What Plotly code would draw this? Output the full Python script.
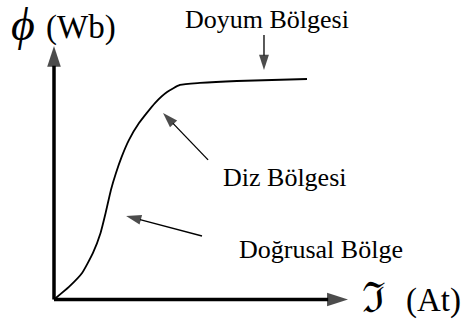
import plotly.graph_objects as go

W, H = 465, 329

# Magnetisation curve: normalised magnetomotive force vs. normalised flux
mmf = [0.0, 0.059, 0.111, 0.154, 0.184, 0.204, 0.225, 0.245, 0.267, 0.296,
       0.336, 0.399, 0.447, 0.498, 0.577, 0.723, 1.0]
flux = [0.0, 0.057, 0.120, 0.211, 0.302, 0.392, 0.497, 0.574, 0.646, 0.723,
        0.800, 0.891, 0.941, 0.973, 0.982, 0.991, 1.0]

# Region labels and their pointer arrows (tail -> tip, data units)
region_labels = ["Doyum Bölgesi", "Diz Bölgesi", "Doğrusal Bölge"]
pointer_tail = [(0.830, 1.200), (0.609, 0.633), (0.585, 0.288)]
pointer_tip = [(0.830, 1.041), (0.431, 0.846), (0.285, 0.379)]

# Axis extents (data units) where the arrowheads sit
x_axis_end = 1.162
y_axis_end = 1.150

SERIF = "Liberation Serif"

fig = go.Figure()

# Axes drawn as thick arrows from the origin
for xs, ys in (([0, x_axis_end], [0, 0]), ([0, 0], [0, y_axis_end])):
    fig.add_trace(go.Scatter(
        x=xs, y=ys, mode="lines+markers",
        line=dict(color="black", width=3.5),
        marker=dict(symbol="arrow", size=[0, 22], angleref="previous",
                    color="black", line=dict(width=0)),
        cliponaxis=False, hoverinfo="skip", showlegend=False))

# The magnetisation curve
fig.add_trace(go.Scatter(
    x=mmf, y=flux, mode="lines",
    line=dict(color="black", width=1.8, shape="spline", smoothing=0.5),
    hoverinfo="skip", showlegend=False))

# Thin pointer arrows for each region
for (tx, ty), (hx, hy) in zip(pointer_tail, pointer_tip):
    fig.add_trace(go.Scatter(
        x=[tx, hx], y=[ty, hy], mode="lines+markers",
        line=dict(color="black", width=1.3),
        marker=dict(symbol="arrow", size=[0, 16], angleref="previous",
                    color="black", line=dict(width=0)),
        cliponaxis=False, hoverinfo="skip", showlegend=False))


def px(x, y):
    """Pixel position -> paper coordinates (figure has no margins)."""
    return x / W, 1 - y / H


def label(text, x, y, size):
    ax, ay = px(x, y)
    return dict(x=ax, y=ay, xref="paper", yref="paper", text=text,
                showarrow=False, xanchor="center", yanchor="middle",
                font=dict(family=SERIF, size=size, color="black"))


label_pos = [(267, 19), (285, 177), (321, 249)]
annotations = [label(t, x, y, 26) for t, (x, y) in zip(region_labels, label_pos)]

# Axis titles
annotations += [
    label("<i>ϕ</i>", 23, 24, 46),
    label("(Wb)", 81, 27, 33),
    label("ℑ", 373, 298, 42),
    label("(At)", 433, 300, 33),
]

fig.update_layout(
    width=W, height=H,
    margin=dict(l=0, r=0, t=0, b=0),
    font=dict(family=SERIF, color="black"),
    paper_bgcolor="white", plot_bgcolor="white",
    xaxis=dict(range=[-0.21344, 1.62451], visible=False, fixedrange=True),
    yaxis=dict(range=[-0.13379, 1.35828], visible=False, fixedrange=True),
    annotations=annotations,
)

fig.write_html("out.html")
